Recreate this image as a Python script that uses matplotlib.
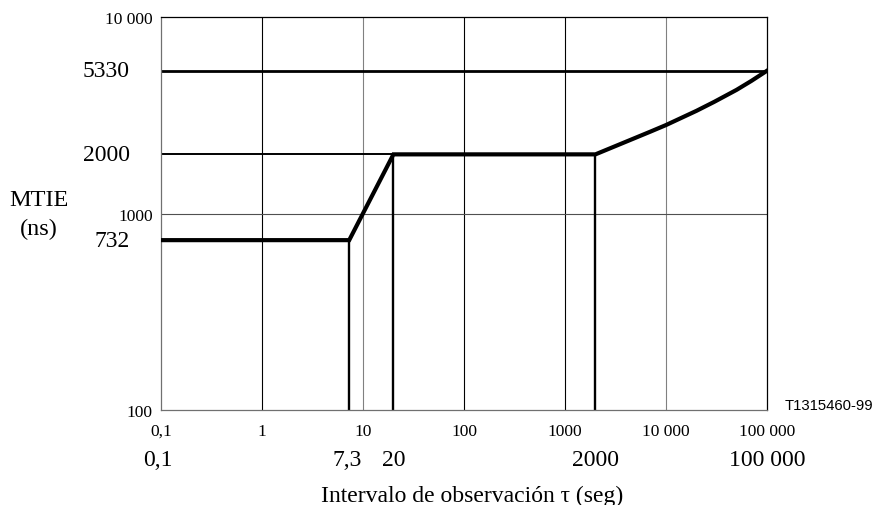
import matplotlib.pyplot as plt
import matplotlib.transforms as mtransforms

# MTIE mask
mask_tau = [0.1, 7.3, 20, 2000, 3000, 5000, 7000, 10000, 20000, 30000, 50000, 70000, 100000]
mask_mtie = [732, 732, 2000, 2000, 2180, 2430, 2610, 2820, 3330, 3700, 4260, 4730, 5330]

# vertical drop lines and their top values
drop_tau = [7.3, 20, 2000]
drop_top = [732, 2000, 2000]

x_ticks = [0.1, 1, 10, 100, 1000, 10000, 100000]
x_ticklabels = ['0,1', '1', '10', '100', '1000', '10 000', '100 000']
y_ticks = [100, 1000, 10000]
y_ticklabels = ['100', '1000', '10 000']

x_marks = [0.1, 7.3, 20, 2000, 100000]
x_marklabels = ['0,1', '7,3', '20', '2000', '100 000']
y_marks = [5330, 2000, 732]
y_marklabels = ['5330', '2000', '732']

plt.rcParams['font.family'] = ['Liberation Serif', 'DejaVu Serif']

fig = plt.figure(figsize=(8.77, 5.06), dpi=100)
ax = fig.add_axes([0.1836, 0.1877, 0.691, 0.7767])
ax.set_xscale('log')
ax.set_yscale('log')
ax.set_xlim(0.1, 100000)
ax.set_ylim(100, 10000)

# grid
grid_colors = {1: 'black', 10: '#808080', 100: 'black', 1000: 'black', 10000: '#808080'}
for gx, c in grid_colors.items():
    ax.axvline(gx, color=c, lw=0.8, zorder=1)
ax.axhline(1000, color='#505050', lw=0.8, zorder=1)

for name in ['left', 'bottom']:
    ax.spines[name].set_color('#707070')
for name in ['top', 'right']:
    ax.spines[name].set_color('black')
for s in ax.spines.values():
    s.set_linewidth(0.9)

# reference lines
ax.axhline(5330, color='black', lw=2.0, zorder=2)
ax.hlines(2000, 0.1, 20, color='black', lw=1.4, zorder=2)
ax.vlines(drop_tau, 100, drop_top, color='black', lw=1.7, zorder=2)

# mask
ax.plot(mask_tau, mask_mtie, color='black', lw=3.0, solid_joinstyle='miter', zorder=3)

ax.set_xticks(x_ticks)
ax.set_xticklabels(x_ticklabels)
ax.set_yticks(y_ticks)
ax.set_yticklabels(y_ticklabels)
ax.minorticks_off()
ax.tick_params(axis='x', length=0, pad=9, labelsize=12.5)
ax.tick_params(axis='y', length=0, pad=6, labelsize=12.5)

# big value labels
xt = mtransforms.blended_transform_factory(ax.transData, ax.transAxes)
x_offsets = [-3, -2, 0, 0, 0]
for x, lab, dx in zip(x_marks, x_marklabels, x_offsets):
    ax.annotate(lab, xy=(x, 0), xycoords=xt, xytext=(dx, -49),
                textcoords='offset pixels', ha='center', va='center',
                fontsize=17, annotation_clip=False)

yt = mtransforms.blended_transform_factory(ax.transAxes, ax.transData)
for y, lab in zip(y_marks, y_marklabels):
    ax.annotate(lab, xy=(0, y), xycoords=yt, xytext=(-31, 0),
                textcoords='offset pixels', ha='right', va='center',
                fontsize=17, annotation_clip=False)

fig.text(39 / 877, 1 - 201 / 506, 'MTIE', ha='center', va='center', fontsize=17.5)
fig.text(39 / 877, 1 - 229 / 506, '(ns)', ha='center', va='center', fontsize=17.5)

fig.text(472 / 877, 1 - 496 / 506, 'Intervalo de observación τ (seg)',
         ha='center', va='center', fontsize=17)

fig.text(0.996, 1 - 406 / 506, 'T1315460-99', ha='right', va='center',
         fontsize=10.7, family='Liberation Sans')

fig.savefig('out.png', dpi=100)
